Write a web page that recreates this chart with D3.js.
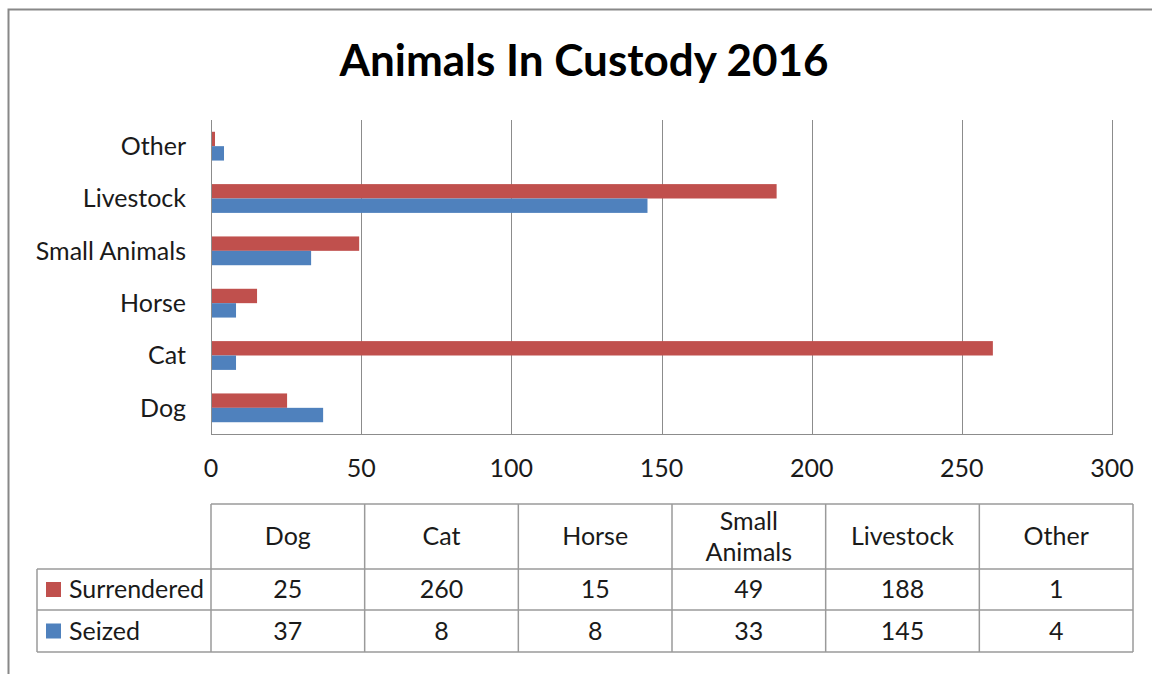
<!DOCTYPE html>
<html lang="en">
<head>
<meta charset="utf-8">
<title>Animals In Custody 2016</title>
<script src="https://cdn.jsdelivr.net/npm/d3@7"></script>
<style>
  body { margin: 0; background: #fff; }
  svg text { font-family: Lato, "Open Sans", sans-serif; fill: #1a1a1a; }
  .title { font-weight: bold; font-size: 44px; fill: #000; }
</style>
</head>
<body>
<script>
var categories = ["Dog", "Cat", "Horse", "Small Animals", "Livestock", "Other"];
var headerLabels = [["Dog"], ["Cat"], ["Horse"], ["Small", "Animals"], ["Livestock"], ["Other"]];
var surrendered = [25, 260, 15, 49, 188, 1];
var seized = [37, 8, 8, 33, 145, 4];
var seriesNames = ["Surrendered", "Seized"];
var seriesColors = ["#C0504D", "#4F81BD"];
var xTicks = [0, 50, 100, 150, 200, 250, 300];

var w = 1152, h = 674;
var fs = 25;
var svg = d3.select("body").append("svg").attr("width", w).attr("height", h);

// outer frame (runs off right and bottom)
svg.append("rect")
  .attr("x", 8.5).attr("y", 9.5).attr("width", 1200).attr("height", 700)
  .attr("fill", "none").attr("stroke", "#888").attr("stroke-width", 2);

svg.append("text").attr("class", "title")
  .attr("x", 584).attr("y", 76).attr("text-anchor", "middle")
  .text("Animals In Custody 2016");

// plot area
var plotLeft = 211, plotRight = 1112, plotTop = 120, plotBottom = 434;
var x = d3.scaleLinear().domain([0, 300]).range([plotLeft, plotRight]);
var y = d3.scaleBand().domain(categories.slice().reverse())
  .range([plotTop, plotBottom]).paddingInner(0.45).paddingOuter(0.225);
var ySub = d3.scaleBand().domain(seriesNames).range([0, y.bandwidth()]);

// gridlines
svg.append("g").selectAll("line").data(xTicks).enter().append("line")
  .attr("x1", function (d) { return Math.round(x(d)) + 0.5; })
  .attr("x2", function (d) { return Math.round(x(d)) + 0.5; })
  .attr("y1", plotTop).attr("y2", plotBottom)
  .attr("stroke", "#8c8c8c").attr("stroke-width", 1);
svg.append("line")
  .attr("x1", plotLeft).attr("x2", plotRight + 1)
  .attr("y1", plotBottom + 0.5).attr("y2", plotBottom + 0.5)
  .attr("stroke", "#8c8c8c");

// bars
var series = [surrendered, seized];
series.forEach(function (vals, si) {
  svg.append("g").selectAll("rect").data(vals).enter().append("rect")
    .attr("x", x(0) + 1)
    .attr("y", function (d, i) { return y(categories[i]) + ySub(seriesNames[si]); })
    .attr("width", function (d) { return x(d) - x(0); })
    .attr("height", ySub.bandwidth())
    .attr("fill", seriesColors[si]);
});

// category labels
svg.append("g").selectAll("text").data(categories).enter().append("text")
  .attr("x", 186)
  .attr("y", function (d) { return y(d) + y.bandwidth() / 2; })
  .attr("dy", "0.35em")
  .attr("text-anchor", "end")
  .attr("font-size", fs)
  .text(function (d) { return d; });

// x tick labels
svg.append("g").selectAll("text").data(xTicks).enter().append("text")
  .attr("x", function (d) { return x(d); })
  .attr("y", 468).attr("dy", "0.35em")
  .attr("text-anchor", "middle")
  .attr("font-size", fs)
  .text(function (d) { return d; });

// data table
var tLeft = 37, tRight = 1133;
var col = d3.scaleBand().domain(categories).range([plotLeft, tRight]);
var rowTop = 504, rowHead = 569, rowMid = 610, rowBot = 652;
var tg = svg.append("g").attr("stroke", "#9a9a9a").attr("stroke-width", 1.5);
tg.append("line").attr("x1", plotLeft).attr("x2", tRight).attr("y1", rowTop).attr("y2", rowTop);
[rowHead, rowMid, rowBot].forEach(function (yy) {
  tg.append("line").attr("x1", tLeft).attr("x2", tRight).attr("y1", yy).attr("y2", yy);
});
tg.append("line").attr("x1", tLeft).attr("x2", tLeft).attr("y1", rowHead).attr("y2", rowBot);
categories.forEach(function (c) {
  tg.append("line").attr("x1", col(c)).attr("x2", col(c)).attr("y1", rowTop).attr("y2", rowBot);
});
tg.append("line").attr("x1", tRight).attr("x2", tRight).attr("y1", rowTop).attr("y2", rowBot);

// header text
categories.forEach(function (c, i) {
  var lines = headerLabels[i];
  var cy = (rowTop + rowHead) / 2;
  lines.forEach(function (t, j) {
    svg.append("text")
      .attr("x", col(c) + col.bandwidth() / 2)
      .attr("y", cy + (j - (lines.length - 1) / 2) * 31)
      .attr("dy", "0.35em")
      .attr("text-anchor", "middle")
      .attr("font-size", fs)
      .text(t);
  });
});

// series rows with legend keys
var rowCenters = [(rowHead + rowMid) / 2, (rowMid + rowBot) / 2];
series.forEach(function (vals, si) {
  var cy = rowCenters[si];
  svg.append("rect").attr("x", 46).attr("y", cy - 7.5).attr("width", 15).attr("height", 15)
    .attr("fill", seriesColors[si]);
  svg.append("text").attr("x", 69).attr("y", cy).attr("dy", "0.35em")
    .attr("font-size", fs).text(seriesNames[si]);
  svg.append("g").selectAll("text").data(vals).enter().append("text")
    .attr("x", function (d, i) { return col(categories[i]) + col.bandwidth() / 2; })
    .attr("y", cy).attr("dy", "0.35em")
    .attr("text-anchor", "middle")
    .attr("font-size", fs)
    .text(function (d) { return d; });
});
</script>
</body>
</html>
